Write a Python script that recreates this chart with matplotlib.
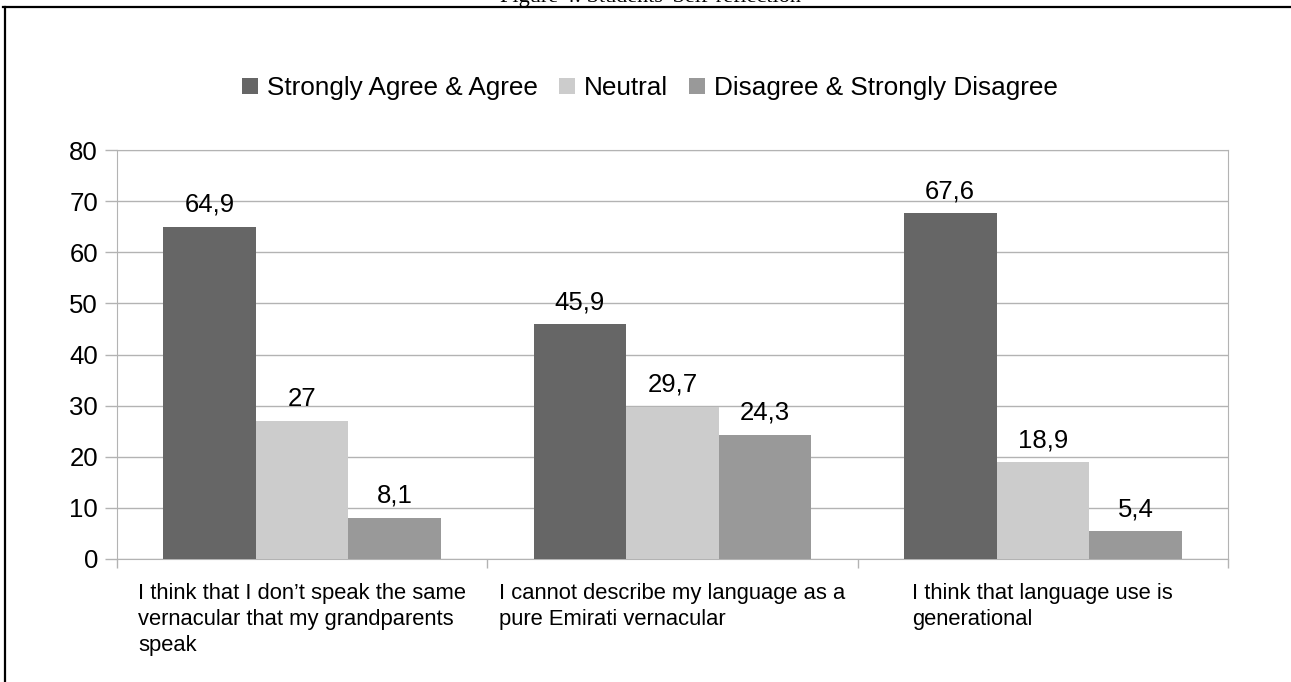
import numpy as np
import matplotlib.pyplot as plt
from matplotlib.lines import Line2D
from matplotlib.patches import Patch

plt.rcParams['font.family'] = ['Liberation Sans', 'DejaVu Sans']

# data
categories = ["I think that I don\u2019t speak the same\nvernacular that my grandparents\nspeak",
              "I cannot describe my language as a\npure Emirati vernacular",
              "I think that language use is\ngenerational"]
series = ["Strongly Agree & Agree", "Neutral", "Disagree & Strongly Disagree"]
agree = [64.9, 45.9, 67.6]
neutral = [27, 29.7, 18.9]
disagree = [8.1, 24.3, 5.4]
colors = ["#666666", "#cccccc", "#999999"]
grid_c = "#b3b3b3"

fig = plt.figure(figsize=(12.91, 6.82), dpi=100)
ax = fig.add_axes([117/1291, 1-559/682, (1228-117)/1291, (559-150)/682])

x = np.arange(len(categories))
w = 0.25
for i, vals in enumerate([agree, neutral, disagree]):
    pos = x - w + i*w
    ax.bar(pos, vals, width=w, color=colors[i], zorder=3)
    for p, v in zip(pos, vals):
        ax.text(p, v + 2.0, ('%g' % v).replace('.', ','), ha='center', va='bottom',
                fontsize=18.5, zorder=4)

ax.set_xlim(-0.5, 2.5)
ax.set_ylim(0, 80)
ax.set_yticks(range(0, 81, 10))
ax.yaxis.grid(True, color=grid_c, lw=1)
ax.set_axisbelow(True)
for s in ax.spines.values():
    s.set_color(grid_c)
ax.tick_params(axis='y', colors=grid_c, length=8.6, width=1, labelcolor='black',
               labelsize=18.5, pad=5)
ax.set_xticks(x)
ax.set_xticklabels(categories, fontsize=15.8, multialignment='left', linespacing=1.31)
ax.tick_params(axis='x', length=0, pad=17)
ax.set_xticks([-0.5, 0.5, 1.5, 2.5], minor=True)
ax.tick_params(axis='x', which='minor', length=6.5, color=grid_c, width=1)

handles = [Patch(facecolor=c, edgecolor='none') for c in colors]
fig.legend(handles, series, loc='center', bbox_to_anchor=(650/1291, 1-88/682), ncol=3,
           frameon=False, fontsize=18.8, handlelength=0.6, handleheight=0.6,
           handletextpad=0.35, columnspacing=0.8)

# page frame and clipped caption
fig.add_artist(Line2D([3/1291, 1], [1-7/682, 1-7/682], color='black', lw=1.6))
fig.add_artist(Line2D([5/1291, 5/1291], [0, 1-7/682], color='black', lw=1.6))
fig.text(650/1291, 1-2/682, "Figure 4: Students' Self-reflection", ha='center', va='baseline',
         fontsize=16, family='Liberation Serif')

fig.savefig('out.png', dpi=100)
